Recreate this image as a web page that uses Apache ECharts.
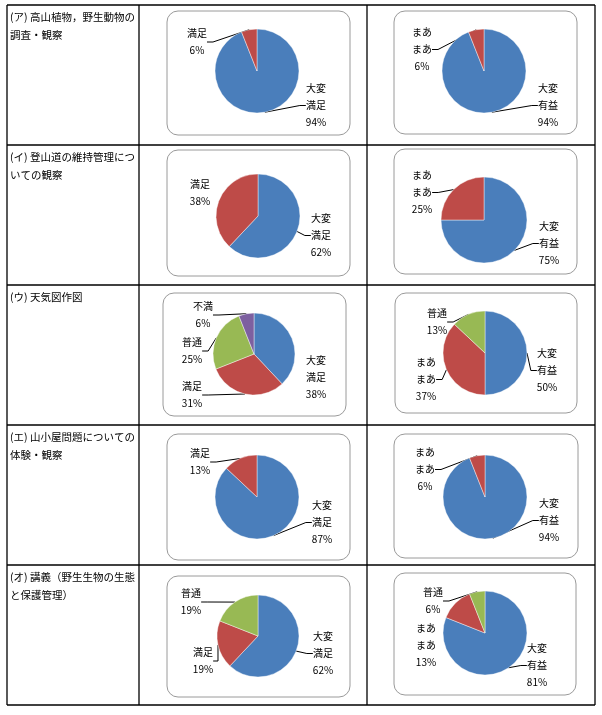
<!DOCTYPE html>
<html><head><meta charset="utf-8">
<script src="https://cdn.jsdelivr.net/npm/echarts@6/dist/echarts.min.js"></script>
<style>html,body{margin:0;padding:0;background:#fff}#c{width:602px;height:715px}</style>
</head><body><div id="c"></div>
<script>
// ---- data ----
const rowTitles = [
  ['(ア) 高山植物，野生動物の', '調査・観察'],
  ['(イ) 登山道の維持管理につ', 'いての観察'],
  ['(ウ) 天気図作図'],
  ['(エ) 山小屋問題についての', '体験・観察'],
  ['(オ) 講義（野生生物の生態', 'と保護管理）']
];
const satisfactionNames = ['大変満足', '満足', '普通', '不満'];
const usefulnessNames = ['大変有益', 'まあまあ', '普通'];
const satisfactionValues = [[94, 6], [62, 38], [38, 31, 25, 6], [87, 13], [62, 19, 19]];
const usefulnessValues = [[94, 6], [75, 25], [50, 37, 13], [94, 6], [81, 13, 6]];

// ---- styling / layout ----
const sliceColors = ['#4A7EBB', '#BE4B48', '#98B954', '#7D60A0'];
const rowLines = [5, 145, 285, 425, 565, 705];
const colLines = [7, 139, 367, 595];
const FONT = '"Noto Sans CJK JP", "DejaVu Sans", sans-serif';

// per chart: box [x,y,w,h], pie center, radius, label anchors (center-x, top-y) per slice, hide-line flags
const leftLayout = [
  {box: [167, 11, 183, 124], c: [257, 71], r: 42, lab: [[316, 80], [197, 25]], noLine: []},
  {box: [167, 150, 183, 126], c: [258, 216], r: 42, lab: [[321, 210], [200, 176]], noLine: [1]},
  {box: [163, 293, 183, 123], c: [254, 354], r: 41, lab: [[316, 352], [192, 378], [192, 334], [203, 298]], noLine: [0]},
  {box: [167, 434, 183, 126], c: [257, 497], r: 42, lab: [[322, 497], [200, 445]], noLine: []},
  {box: [167, 576, 183, 121], c: [258, 636], r: 41, lab: [[323, 628], [203, 644], [191, 585]], noLine: []}
];
const rightLayout = [
  {box: [394, 11, 183, 123], c: [484, 71], r: 42, lab: [[548, 80], [422, 24]], noLine: []},
  {box: [394, 149, 183, 125], c: [484, 220], r: 43, lab: [[549, 218], [422, 167]], noLine: []},
  {box: [395, 293, 182, 120], c: [485, 353], r: 42, lab: [[547, 345], [426, 354], [437, 305]], noLine: []},
  {box: [394, 434, 184, 124], c: [485, 497], r: 42, lab: [[549, 495], [425, 444]], noLine: []},
  {box: [394, 573, 182, 122], c: [485, 633], r: 42, lab: [[537, 640], [426, 620], [433, 584]], noLine: [1]}
];

function wrapName(n) { return n.length > 2 ? n.slice(0, 2) + '\n' + n.slice(2) : n; }

function makePie(names, values, lay) {
  return {
    type: 'pie',
    center: lay.c,
    radius: lay.r,
    startAngle: 90,
    clockwise: true,
    silent: true,
    avoidLabelOverlap: false,
    itemStyle: {borderColor: 'rgba(255,255,255,0.7)', borderWidth: 0.6},
    label: {
      show: true, position: 'outside', color: '#000', fontSize: 10, lineHeight: 17,
      fontFamily: FONT,
      formatter: p => wrapName(p.name) + '\n' + p.value + '%'
    },
    labelLine: {show: true, length: 6, length2: 6, lineStyle: {color: '#000', width: 1}},
    labelLayout: function (params) {
      const a = lay.lab[params.dataIndex];
      return {x: a[0], y: a[1], align: 'center', verticalAlign: 'top'};
    },
    data: values.map((v, i) => ({
      name: names[i], value: v,
      itemStyle: {color: sliceColors[i]},
      labelLine: {show: lay.noLine.indexOf(i) < 0}
    }))
  };
}

const series = [];
for (let i = 0; i < 5; i++) {
  series.push(makePie(satisfactionNames, satisfactionValues[i], leftLayout[i]));
  series.push(makePie(usefulnessNames, usefulnessValues[i], rightLayout[i]));
}

const graphics = [];
rowLines.forEach(y => graphics.push({type: 'line', shape: {x1: colLines[0], y1: y, x2: colLines[3], y2: y}, style: {stroke: '#000', lineWidth: 1.3}}));
colLines.forEach(x => graphics.push({type: 'line', shape: {x1: x, y1: rowLines[0], x2: x, y2: rowLines[5]}, style: {stroke: '#000', lineWidth: 1.3}}));
leftLayout.concat(rightLayout).forEach(l => graphics.push({
  type: 'rect', shape: {x: l.box[0], y: l.box[1], width: l.box[2], height: l.box[3], r: 11},
  style: {fill: 'none', stroke: '#9a9a9a', lineWidth: 1}
}));
rowTitles.forEach((t, i) => graphics.push({
  type: 'text', x: 10, y: rowLines[i] + 3,
  style: {text: t.join('\n'), font: '10.5px ' + FONT, lineHeight: 18, fill: '#000', textVerticalAlign: 'top'}
}));

const chart = echarts.init(document.getElementById('c'));
chart.setOption({
  animation: false,
  backgroundColor: '#fff',
  graphic: graphics,
  series: series
});
</script></body></html>
